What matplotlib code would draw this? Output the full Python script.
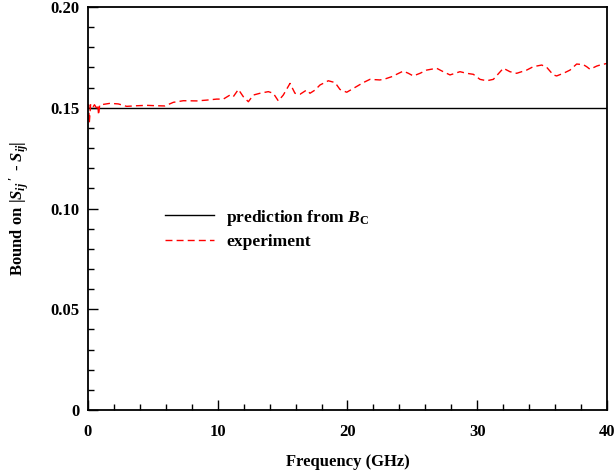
import numpy as np
import matplotlib
matplotlib.use("Agg")
import matplotlib.pyplot as plt
from matplotlib.ticker import MultipleLocator, FuncFormatter

# data
prediction_freq = [0.0, 40.0]
prediction_bound = [0.150, 0.150]

exp_freq = [0.0, 0.05, 0.1, 0.2, 0.35, 0.5, 0.65, 0.75, 0.82, 0.9,
            1.70, 2.34, 2.98, 3.75, 4.52, 5.29, 5.93, 6.58, 7.35, 8.38,
            9.15, 9.92, 10.43, 10.94, 11.20, 11.59, 11.97, 12.36, 12.74, 13.26,
            13.90, 14.28, 14.67, 15.05, 15.57, 15.95, 16.34, 16.85, 17.11, 17.50,
            17.88, 18.52, 19.04, 19.42, 19.94, 20.45, 21.22, 21.73, 22.50, 22.89,
            23.40, 24.30, 24.69, 25.07, 25.59, 26.10, 26.87, 27.38, 27.90, 28.67,
            29.18, 29.70, 30.21, 30.73, 31.24, 32.01, 32.52, 33.04, 33.81, 34.32,
            34.97, 35.35, 35.86, 36.12, 36.64, 37.15, 37.66, 38.17, 38.43, 38.69,
            39.21, 39.46, 40.0]
exp_bound = [0.1500, 0.1515, 0.1424, 0.1515, 0.1500, 0.1515, 0.1500, 0.1515, 0.1464, 0.1514,
             0.1522, 0.1519, 0.1507, 0.1510, 0.1512, 0.1510, 0.1509, 0.1527, 0.1535, 0.1534,
             0.1538, 0.1543, 0.1543, 0.1563, 0.1555, 0.1591, 0.1555, 0.1530, 0.1563, 0.1572,
             0.1580, 0.1572, 0.1534, 0.1563, 0.1621, 0.1572, 0.1567, 0.1588, 0.1572, 0.1588,
             0.1613, 0.1634, 0.1625, 0.1591, 0.1577, 0.1596, 0.1625, 0.1641, 0.1638, 0.1643,
             0.1654, 0.1682, 0.1671, 0.1658, 0.1671, 0.1687, 0.1696, 0.1679, 0.1663, 0.1679,
             0.1671, 0.1666, 0.1641, 0.1634, 0.1641, 0.1696, 0.1679, 0.1671, 0.1687, 0.1704,
             0.1712, 0.1701, 0.1663, 0.1658, 0.1671, 0.1687, 0.1717, 0.1714, 0.1704, 0.1691,
             0.1707, 0.1712, 0.1720]

plt.rcParams["font.family"] = "Liberation Serif"
plt.rcParams["font.weight"] = "bold"
plt.rcParams["mathtext.fontset"] = "custom"
plt.rcParams["mathtext.rm"] = "Liberation Serif:bold"
plt.rcParams["mathtext.it"] = "Liberation Serif:bold:italic"
plt.rcParams["mathtext.bf"] = "Liberation Serif:bold"

FS = 12

fig = plt.figure(figsize=(6.14, 4.74), dpi=100)
ax = fig.add_axes([0.1433, 0.135, 0.8453, 0.8502])

ax.plot(prediction_freq, prediction_bound, color="black", linewidth=1.0,
        label=r"prediction from $B_{\mathbf{C}}$")
ax.plot(exp_freq, exp_bound, color="red", linewidth=1.0, dashes=(5, 3),
        label="experiment")

ax.set_xlim(0, 40)
ax.set_ylim(0, 0.20)
ax.xaxis.set_major_locator(MultipleLocator(10))
ax.xaxis.set_minor_locator(MultipleLocator(2))
ax.yaxis.set_major_locator(MultipleLocator(0.05))
ax.yaxis.set_minor_locator(MultipleLocator(0.01))
ax.yaxis.set_major_formatter(FuncFormatter(lambda v, p: "0" if abs(v) < 1e-9 else f"{v:.2f}"))
ax.tick_params(which="both", direction="in", top=False, right=False, labelsize=FS)
ax.tick_params(axis="y", pad=6)
ax.tick_params(axis="x", pad=10)
ax.tick_params(which="major", length=7, width=1)
ax.tick_params(which="minor", length=4, width=1)
for spine in ax.spines.values():
    spine.set_linewidth(1.3)

ax.set_xlabel("Frequency (GHz)", fontsize=FS, fontweight="bold")
ax.xaxis.set_label_coords(0.5, -0.11)
ax.set_ylabel(r"Bound on $|S_{ij}\,\mathrm{'}\,$ - $S_{ij}|$", fontsize=FS,
              fontweight="bold")
ax.yaxis.set_label_coords(-0.11, 0.5)

ax.legend(loc="center left", bbox_to_anchor=(0.118, 0.45), frameon=False,
          handlelength=2.85, handletextpad=0.7, labelspacing=0.35,
          prop={"weight": "bold", "size": 12.5})

fig.savefig("out.png", dpi=100)
